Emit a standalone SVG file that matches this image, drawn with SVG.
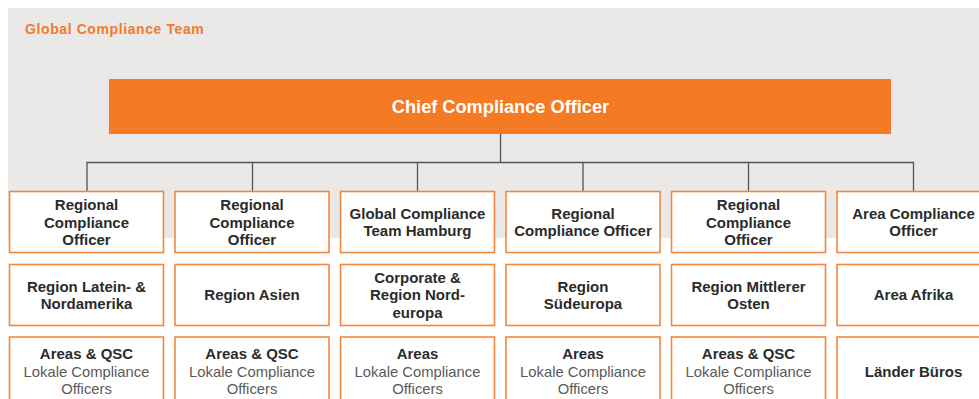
<svg xmlns="http://www.w3.org/2000/svg" width="979" height="399" viewBox="0 0 979 399">
<style>
.bx{fill:#fff;stroke:#f4873e;stroke-width:1.6}
.t{font-family:"Liberation Sans",Arial,sans-serif;font-weight:bold;font-size:15px;fill:#2b2b2b;text-anchor:middle}
.l{font-family:"Liberation Sans",Arial,sans-serif;font-size:14.8px;fill:#5a5a5a;text-anchor:middle}
.c{fill:none;stroke:#555;stroke-width:1.3}
</style>
<rect x="8" y="8" width="971" height="230" fill="#ebe9e7"/>
<text x="25" y="33.5" font-family="Liberation Sans,Arial,sans-serif" font-weight="bold" font-size="14" letter-spacing="0.6" fill="#f47a2a">Global Compliance Team</text>
<g id="connectors">
<path class="c" d="M500.5 134V162.5M87 191V162.5H913.5V191M252.5 162.5V191M417.5 162.5V191M583 162.5V191M748.5 162.5V191"/>
</g>
<g id="chief">
<rect x="109" y="79" width="782" height="55" fill="#f47a24"/>
<text x="500.5" y="112.5" font-family="Liberation Sans,Arial,sans-serif" font-weight="bold" font-size="18.2" fill="#fff" text-anchor="middle">Chief Compliance Officer</text>
</g>
<g id="r1c1"><rect class="bx" x="9.5" y="191.5" width="154" height="61"/><text class="t" x="86.5"><tspan x="86.5" y="210">Regional</tspan><tspan x="86.5" y="227.5">Compliance</tspan><tspan x="86.5" y="244.5">Officer</tspan></text></g>
<g id="r1c2"><rect class="bx" x="175" y="191.5" width="154" height="61"/><text class="t"><tspan x="252" y="210">Regional</tspan><tspan x="252" y="227.5">Compliance</tspan><tspan x="252" y="244.5">Officer</tspan></text></g>
<g id="r1c3"><rect class="bx" x="340.5" y="191.5" width="154" height="61"/><text class="t"><tspan x="417.5" y="218.5">Global Compliance</tspan><tspan x="417.5" y="236">Team Hamburg</tspan></text></g>
<g id="r1c4"><rect class="bx" x="506" y="191.5" width="154" height="61"/><text class="t"><tspan x="583" y="218.5">Regional</tspan><tspan x="583" y="236">Compliance Officer</tspan></text></g>
<g id="r1c5"><rect class="bx" x="671.5" y="191.5" width="154" height="61"/><text class="t"><tspan x="748.5" y="210">Regional</tspan><tspan x="748.5" y="227.5">Compliance</tspan><tspan x="748.5" y="244.5">Officer</tspan></text></g>
<g id="r1c6"><rect class="bx" x="837" y="191.5" width="154" height="61"/><text class="t"><tspan x="913.5" y="218.5">Area Compliance</tspan><tspan x="913.5" y="236">Officer</tspan></text></g>
<g id="r2c1"><rect class="bx" x="9.5" y="264.5" width="154" height="61"/><text class="t"><tspan x="86.5" y="291.5">Region Latein- &amp;</tspan><tspan x="86.5" y="308.5">Nordamerika</tspan></text></g>
<g id="r2c2"><rect class="bx" x="175" y="264.5" width="154" height="61"/><text class="t" x="252" y="300">Region Asien</text></g>
<g id="r2c3"><rect class="bx" x="340.5" y="264.5" width="154" height="61"/><text class="t"><tspan x="417.5" y="283">Corporate &amp;</tspan><tspan x="417.5" y="300">Region Nord-</tspan><tspan x="417.5" y="317.5">europa</tspan></text></g>
<g id="r2c4"><rect class="bx" x="506" y="264.5" width="154" height="61"/><text class="t"><tspan x="583" y="291.5">Region</tspan><tspan x="583" y="308.5">Südeuropa</tspan></text></g>
<g id="r2c5"><rect class="bx" x="671.5" y="264.5" width="154" height="61"/><text class="t"><tspan x="748.5" y="291.5">Region Mittlerer</tspan><tspan x="748.5" y="308.5">Osten</tspan></text></g>
<g id="r2c6"><rect class="bx" x="837" y="264.5" width="154" height="61"/><text class="t" x="913.5" y="300">Area Afrika</text></g>
<g id="r3c1"><rect class="bx" x="9.5" y="337" width="154" height="80"/><text class="t" x="86.5" y="359">Areas &amp; QSC</text><text class="l"><tspan x="86.5" y="376.5">Lokale Compliance</tspan><tspan x="86.5" y="393.5">Officers</tspan></text></g>
<g id="r3c2"><rect class="bx" x="175" y="337" width="154" height="80"/><text class="t" x="252" y="359">Areas &amp; QSC</text><text class="l"><tspan x="252" y="376.5">Lokale Compliance</tspan><tspan x="252" y="393.5">Officers</tspan></text></g>
<g id="r3c3"><rect class="bx" x="340.5" y="337" width="154" height="80"/><text class="t" x="417.5" y="359">Areas</text><text class="l"><tspan x="417.5" y="376.5">Lokale Compliance</tspan><tspan x="417.5" y="393.5">Officers</tspan></text></g>
<g id="r3c4"><rect class="bx" x="506" y="337" width="154" height="80"/><text class="t" x="583" y="359">Areas</text><text class="l"><tspan x="583" y="376.5">Lokale Compliance</tspan><tspan x="583" y="393.5">Officers</tspan></text></g>
<g id="r3c5"><rect class="bx" x="671.5" y="337" width="154" height="80"/><text class="t" x="748.5" y="359">Areas &amp; QSC</text><text class="l"><tspan x="748.5" y="376.5">Lokale Compliance</tspan><tspan x="748.5" y="393.5">Officers</tspan></text></g>
<g id="r3c6"><rect class="bx" x="837" y="337" width="154" height="80"/><text class="t" x="913.5" y="376.5">Länder Büros</text></g>
</svg>
